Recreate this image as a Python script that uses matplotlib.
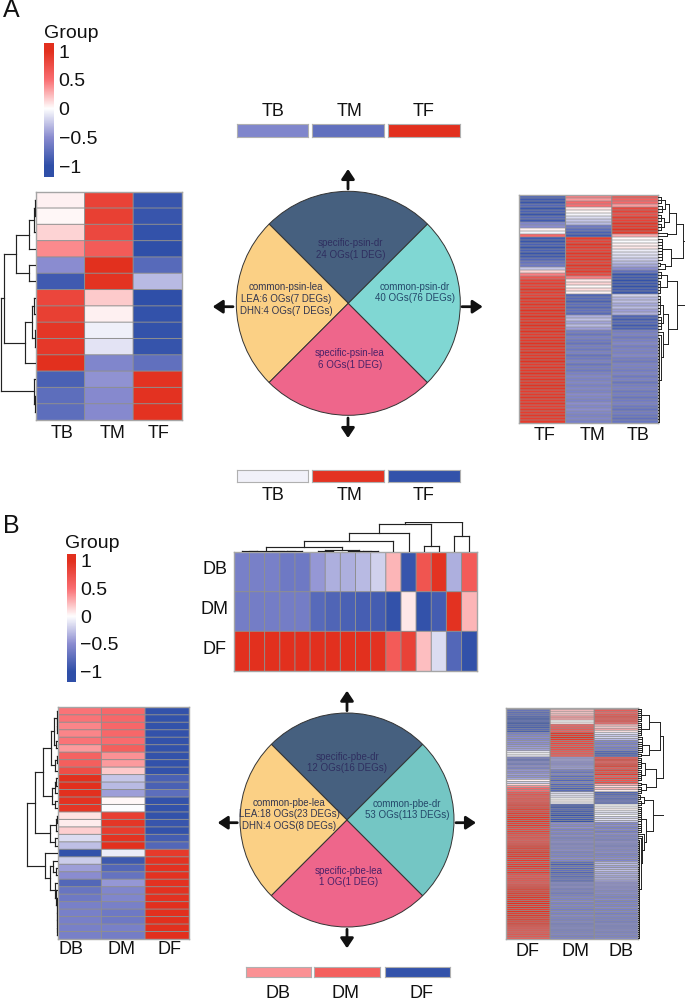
import numpy as np
import matplotlib
matplotlib.use("Agg")
import matplotlib.pyplot as plt
from matplotlib.colors import LinearSegmentedColormap, Normalize

plt.rcParams['font.family'] = ['Liberation Sans', 'DejaVu Sans']

W, H = 685, 1000

# ---------- data ----------
cbar_ticks = [1, 0.5, 0, -0.5, -1]
cbar_labels = ['1', '0.5', '0', '\u22120.5', '\u22121']

A_groups_left = ['TB', 'TM', 'TF']
A_left_TB = [.05, .03, .15, .4, -.5, -.9, .82, .87, .95, .93, 1, -.85, -.75, -.75]
A_left_TM = [.85, .87, .8, .65, 1, .97, .18, .05, -.07, -.12, -.55, -.47, -.52, -.52]
A_left_TF = [-.95, -.95, -.97, -1, -.78, -.3, -1, -.97, -.97, -.96, -.72, .98, .98, .98]

A_groups_right = ['TF', 'TM', 'TB']
A_right_TF = [-.85, -.9, -.95, -.8, -.95, -.85, -.95, -.8, -.9,
              -.55, -.5, .05, -.05, .55,
              -.9, -.95, -.85, -.95, -.85, -.95, -.9, -.8, -.7, -.65, -.25, .15, .45, .7,
              .85, .9, .85, .95, .9, .85, .95, .9,
              .95, .9, .97, .92, .97, .9, .95, .98,
              .92, .97, .9, .95, .92, .98, .95, .9,
              .97, .92, .95, .98, .9, .95, .92, .97,
              .9, .95, .92, .97, .95, .9, .92, .95,
              .9, .93, .88, .92, .9, .94, .9, .92]
A_right_TM = [.45, .35, .55, .5, .1, .03, -.05, -.15, -.25, -.3, -.65, -.75, -.85, -.9,
              .9, .85, .95, .9, .85, .95, .9, .92, .85, .95, .88, .92, .8, .45,
              .08, .15, .02, .12, .05,
              -.82, -.78, -.85, -.75, -.8, -.72, -.78,
              -.35, -.28, -.4, -.3, -.42,
              -.62, -.68, -.6, -.65, -.7, -.62, -.66, -.6, -.7, -.65,
              -.6, -.68, -.62, -.66, -.6, -.55, -.58, -.55, -.6, -.55,
              -.58, -.52, -.55, -.58, -.5, -.55, -.5, -.55, -.58, -.55, -.6]
A_right_TB = [.7, .6, .55, .35, .8, .85, .75, .9, .85, .95, .9, .98, .92, .3,
              .02, -.02, .05, .08, -.08, -.12, -.15, -.22, -.3, -.38, -.5,
              -.72, -.95, -.9, -.97, -.92, -.97, -.9, -.95,
              -.2, -.32, -.28, -.38, -.3, -.42, -.35,
              -.82, -.88, -.8, -.9, -.85,
              -.62, -.58, -.65, -.6, -.55, -.62, -.58, -.6, -.55, -.62,
              -.65, -.58, -.6, -.63, -.58, -.65, -.6, -.68, -.62, -.6,
              -.66, -.62, -.68, -.64, -.6, -.66, -.7, -.64, -.68, -.72, -.68]

A_swatch_top_names = ['TB', 'TM', 'TF']
A_swatch_top_vals = [-.55, -.72, 1]
A_swatch_bot_names = ['TB', 'TM', 'TF']
A_swatch_bot_vals = [-.06, .97, -.97]

B_groups_left = ['DB', 'DM', 'DF']
B_left_DB = [.48, .48, .42, .42, .48, .35, .6, .62, .75, 1, 1, 1, .97, .95, .1, .07, .17, -.15, -.28,
             -.97, -.22, -.42, -.5, -.8, -.68, -.65, -.6, -.6, -.6, -.6, -.6]
B_left_DM = [.55, .55, .55, .55, .52, .62, .38, .35, .18, -.25, -.3, -.42, .03, -.01, .88, .95, .9, .97, 1,
             -.08, -.92, -.8, -.7, -.45, -.55, -.55, -.6, -.65, -.65, -.6, -.62]
B_left_DF = [-.97, -.97, -.97, -.97, -.97, -.97, -.97, -.97, -.97, -.85, -.85, -.75, -.97, -.97, -.97, -.95, -.97, -.88, -.8,
             .92, .97, .98, .98, .98, .98, .98, 1, 1, 1, 1, 1]

B_groups_top = ['DB', 'DM', 'DF']
B_top_DB = [-.6, -.6, -.6, -.65, -.65, -.45, -.35, -.35, -.3, -.2, .25, -.95, .7, .97, -.35, .65]
B_top_DM = [-.62, -.62, -.62, -.62, -.62, -.78, -.82, -.85, -.87, -.88, -.97, .08, -.97, -.88, .98, .25]
B_top_DF = [1, 1, 1, 1, 1, 1, 1, 1, 1, .98, .65, .85, .22, -.15, -.8, -.98]

B_groups_right = ['DF', 'DM', 'DB']
B_right_DF = [-.7, -.72, -.78, -.75, -.85, -.9, -.8, -.95, -.85, -.9, -.8, -.88,
              -.6, -.55, -.5, -.55, -.48, -.5, -.45, -.42, -.4, -.08, -.03, -.1,
              -.6, -.72, -.55, -.65, -.5, -.6, -.45, -.5, -.42, -.48, -.4,
              .05, -.2, .15, .4, .55, .5,
              .7, .75, .7, .75, .72, .78, .85, .8, .9, .82,
              .92, .85, .95, .88, .92, .85, .9, .8, .78, .85,
              .8, .75, .78, .72, .75, .8, .88, .92, .85, .95,
              .88, .93, .85, .9, .82, .88, .92, .85, .8, .9,
              .75, .72, .78, .75, .72, .8, .85, .92, .88, .95,
              .9, .97, .88, .93, .98, .9, .95, .88, .97, .9,
              .95, .88, .92, .85, .9, .82, .78, .75, .72, .75,
              .72, .7]
B_right_DM = [.2, .22, .18, .22, .35, .3, 0, .05, .6, .65, .68, .62, .95, .9, .97, .92,
              .75, .8, .72, .78, .75, .68, .7, .65,
              -.45, -.42, -.48, -.5, -.45, -.42,
              -.6, -.7, -.55, -.75, -.65, -.8, -.6, -.8, -.72, -.85, -.78,
              -.15, -.1, -.12, 0, .02, -.05,
              -.85, -.95, -.8, -.9, -.85, -.97, -.82, -.9, -.95,
              -.5, -.55, -.48, -.6, -.52, -.58, -.5, -.6, -.55, -.5,
              -.58, -.52, -.55, -.5, -.6, -.55, -.58, -.5, -.55,
              -.75, -.85, -.7, -.8, -.72, -.82, -.7, -.78, -.68, -.75,
              -.55, -.6, -.52, -.62, -.58, -.65, -.6, -.55, -.58, -.52,
              -.6, -.55, -.58, -.62, -.55, -.6, -.52, -.58, -.6, -.55,
              -.62, -.58, -.55, -.6, -.58, -.55, -.6, -.58]
B_right_DB = [.62, .68, .6, .72, .78, .7, .75, .6, .25, .15, .3, .1, -.12, -.25, -.18, -.3,
              -.55, -.6, -.52, -.62, -.58, -.82, -.85, -.8,
              .72, .85, .68, .8, .9, .7, .85, .75, .9, .65, .8, .7, .75,
              .3, .12, .25, .05,
              -.85, -.8, -.7, -.78, -.68, -.75,
              0, -.05, .03, -.1, -.15, -.02, -.2, -.12, -.25,
              -.55, -.5, -.6, -.52, -.62, -.5, -.58, -.55, -.6, -.5,
              -.55, -.6, -.52, -.55, -.5, -.58, -.55, -.5, -.55,
              -.35, -.3, -.4, -.32, -.28, -.38, -.33, -.4, -.35, -.42,
              -.5, -.48, -.52, -.5, -.55, -.5, -.55, -.58, -.52, -.6,
              -.55, -.58, -.52, -.6, -.55, -.62, -.55, -.6, -.58, -.62,
              -.55, -.6, -.58, -.55, -.6, -.55, -.58, -.55]

B_swatch_names = ['DB', 'DM', 'DF']
B_swatch_vals = [.38, .62, -.97]

pie_shares = [1, 1, 1, 1]   # top, left, bottom, right
A_pie_colors = ['#46607F', '#FBD085', '#EE668B', '#80D7D3']
B_pie_colors = ['#46607F', '#FBD085', '#EE668B', '#74C6C4']

A_pie_text = [['specific-psin-dr', '24 OGs(1 DEG)'],
              ['common-psin-lea', 'LEA:6 OGs(7 DEGs)', 'DHN:4 OGs(7 DEGs)'],
              ['specific-psin-lea', '6 OGs(1 DEG)'],
              ['common-psin-dr', '40 OGs(76 DEGs)']]
B_pie_text = [['specific-pbe-dr', '12 OGs(16 DEGs)'],
              ['common-pbe-lea', 'LEA:18 OGs(23 DEGs)', 'DHN:4 OGS(8 DEGs)'],
              ['specific-pbe-lea', '1 OG(1 DEG)'],
              ['common-pbe-dr', '53 OGs(113 DEGs)']]

# dendrograms: (height in px, child, child, ...); integers are rows
def span(h, a, b):
    return (h, *range(a, b + 1))

A_left_tree = (35.5,
               (32.5,
                (20, (6.7, (2.5, (1.5, 0, 1), 2), 3), (7.5, 4, 5)),
                (11.5, (4.5, (2, 6, 7), (1.5, 8, 9)), 10)),
               (2, 11, (1, 12, 13)))
A_right_tree = (26.5,
                (25,
                 (18, (11, (6.5, (2.5, 0, 1, 2), (4, 3, 4, 5)),
                       (6, (2.5, 6, 7, 8), (3, 9, 10, 11))), (9, 12, 13)),
                 (12.5, span(3.5, 14, 21), (7, (2, 22, 23), 24))),
                (19,
                 (8.5, (3, 25, 26, 27), span(2, 28, 32)),
                 (9.5,
                  (4.5, span(2, 33, 39), span(2.5, 40, 44)),
                  (5, 45, (3, 46, span(1, 47, 75))))))
B_left_tree = (31,
               (22.7,
                (14.3,
                 (6.7,
                  (3.3, (1, 0, (.8, 1, (.6, 2, 3))), (1.5, 4, 5)),
                  (2.7, (1.2, 6, 7), 8)),
                 (6, (2.5, (1.5, 9, 10), 11), (2.5, 12, 13))),
                (7.7, (2, (1, 14, 15), 16), (2.5, 17, 18))),
               (12.7, 19,
                (7.7,
                 (4.3, 20, (2, 21, 22)),
                 (2.7, 23, (1.5, 24, (1.2, 25, (1, 26, (.8, 27, (.6, 28, (.4, 29, 30))))))))))
B_top_tree = (30,
              (28,
               (19,
                (11,
                 (5,
                  (1.5, (.8, 0, 1), (1.2, 2, (.6, 3, 4))),
                  (2, (1, 5, 6), (1.5, 7, (1, 8, 9)))),
                 10),
                11),
               (6, 12, 13)),
              (16, 14, 15))
B_right_tree = (25.5,
                (24.8,
                 (22,
                  (10.7, span(3, 0, 6), span(3, 7, 13)),
                  (11, span(4, 14, 21), (2.5, 22, 23))),
                 (18,
                  (6.7, span(3, 24, 29), span(2.5, 30, 35)),
                  (8, (3, 36, 37), span(2.5, 38, 41)))),
                (14.5,
                 (5.5, (2, 42, 43, 44), (3, 45, 46, 47)),
                 (7.5, span(3, 48, 60),
                  (5.5, 61, (4, 62, (3, 63, span(1, 64, 112)))))))

# ---------- helpers ----------
cmap = LinearSegmentedColormap.from_list('rwb', [
    (0.0, '#2F4FA8'), (0.25, '#8A8CD0'), (0.5, '#FFFFFF'), (0.75, '#FA6E72'), (1.0, '#E2301E')])
norm = Normalize(-1, 1)
GRID = '#8F8F8F'
DARK = '#222222'

fig = plt.figure(figsize=(W / 100, H / 100), dpi=100, facecolor='white')

def px_axes(x0, y0, x1, y1, **kw):
    return fig.add_axes([x0 / W, 1 - y1 / H, (x1 - x0) / W, (y1 - y0) / H], **kw)

def heat(x0, y0, x1, y1, cols, row_lw, col_lw):
    ax = px_axes(x0, y0, x1, y1)
    arr = np.array(cols).T
    nr, nc = arr.shape
    ax.pcolormesh(arr, cmap=cmap, norm=norm, edgecolors='none')
    h = ax.hlines(np.arange(1, nr), 0, nc, color=GRID, lw=row_lw)
    v = ax.vlines(np.arange(1, nc), 0, nr, color=GRID, lw=col_lw)
    h.set_snap(False); v.set_snap(False)
    ax.set_xlim(0, nc); ax.set_ylim(nr, 0)
    ax.set_xticks([]); ax.set_yticks([])
    for s in ax.spines.values():
        s.set_color('#A5A5A5'); s.set_linewidth(1.0)
    return ax

def draw_tree(node, plot):
    if not isinstance(node, tuple):
        return node + .5, 0.0
    h, *kids = node
    res = [draw_tree(k, plot) for k in kids]
    for pos, hc in res:
        plot([pos, pos], [hc, h])
    plot([res[0][0], res[-1][0]], [h, h])
    return (res[0][0] + res[-1][0]) / 2, h

def tree_axes(tree, n, x0, y0, x1, y1, side, lw=.85):
    hmax = tree[0] + .5
    if side == 'left':
        ax = px_axes(x0 - hmax, y0, x0, y1)
        ax.set_xlim(hmax, 0); ax.set_ylim(n, 0)
        plot = lambda p, h: ax.plot(h, p, color=DARK, lw=lw, solid_capstyle='projecting')
    elif side == 'right':
        ax = px_axes(x1, y0, x1 + hmax, y1)
        ax.set_xlim(0, hmax); ax.set_ylim(n, 0)
        plot = lambda p, h: ax.plot(h, p, color=DARK, lw=lw, solid_capstyle='projecting')
    else:
        ax = px_axes(x0, y0 - hmax, x1, y0)
        ax.set_xlim(0, n); ax.set_ylim(0, hmax)
        plot = lambda p, h: ax.plot(p, h, color=DARK, lw=lw, solid_capstyle='projecting')
    ax.axis('off')
    draw_tree(tree, plot)

def colorbar(x0, y0, x1, y1, top, bottom, pad):
    ax = px_axes(x0, y0, x1, y1)
    ys = np.linspace(bottom, top, 256)
    ax.imshow(ys[:, None], cmap=cmap, norm=norm, aspect='auto', origin='lower',
              extent=[0, 1, bottom, top])
    ax.set_xticks([])
    ax.yaxis.tick_right()
    ax.set_yticks(cbar_ticks, cbar_labels)
    ax.tick_params(axis='y', length=0, pad=pad, labelsize=14, labelcolor='#111111')
    for s in ax.spines.values():
        s.set_visible(False)

def pie(cx, cy, r, colors):
    ax = px_axes(cx - r - 1, cy - r - 1, cx + r + 1, cy + r + 1)
    ax.pie(pie_shares, colors=colors, startangle=45, counterclock=True, radius=1,
           wedgeprops=dict(edgecolor='#333333', linewidth=.7))
    lim = (r + 1) / r
    ax.set_xlim(-lim, lim); ax.set_ylim(-lim, lim)

def swatches(xs, y0, y1, vals):
    for (a, b), v in zip(xs, vals):
        ax = px_axes(a, y0, b, y1)
        ax.pcolormesh([[v]], cmap=cmap, norm=norm)
        ax.set_xticks([]); ax.set_yticks([])
        for s in ax.spines.values():
            s.set_color('#B0B0B0'); s.set_linewidth(.8)

# ---------- panel A ----------
colorbar(44.3, 43.3, 54, 176.7, 1.134, -1.186, 3.4)
heat(36, 191.7, 181.7, 420, [A_left_TB, A_left_TM, A_left_TF], .7, .7)
tree_axes(A_left_tree, 14, 36, 191.7, 181.7, 420, 'left')
heat(519.3, 195, 658, 423, [A_right_TF, A_right_TM, A_right_TB], .5, .8)
tree_axes(A_right_tree, 76, 519.3, 195, 658, 423, 'right', .7)
pie(348.3, 303.3, 112, A_pie_colors)
swatches([(236.7, 308.3), (312.3, 384.3), (388, 460)], 124.3, 136.7, A_swatch_top_vals)
swatches([(236.7, 308.3), (312.3, 384.3), (388, 460)], 470, 482, A_swatch_bot_vals)

# ---------- panel B ----------
colorbar(66.7, 554, 75.7, 681.7, 1.117, -1.18, 3.1)
heat(57.7, 707.3, 188.7, 939, [B_left_DB, B_left_DM, B_left_DF], .7, .7)
tree_axes(B_left_tree, 31, 57.7, 707.3, 188.7, 939, 'left')
heat(234.3, 552, 476.7, 671, [list(r) for r in zip(B_top_DB, B_top_DM, B_top_DF)], .7, .7)
tree_axes(B_top_tree, 16, 234.3, 552, 476.7, 671, 'top')
heat(506, 707.7, 638.3, 939.3, [B_right_DF, B_right_DM, B_right_DB], .55, .8)
tree_axes(B_right_tree, 113, 506, 707.7, 638.3, 939.3, 'right', .7)
pie(347, 820, 107, B_pie_colors)
swatches([(245.7, 310.7), (314, 379.7), (385, 450.3)], 966.7, 976.7, B_swatch_vals)

# ---------- overlay canvas in pixel units: text and arrows ----------
ov = fig.add_axes([0, 0, 1, 1], zorder=10)
ov.set_xlim(0, W); ov.set_ylim(H, 0); ov.axis('off'); ov.patch.set_alpha(0)

def lab(x, y, s, size=13, **kw):
    ov.text(x, y, s, fontsize=size, ha='center', va='center', color=kw.pop('color', '#111111'), **kw)

lab(11, 10, 'A', 18)
lab(11, 526, 'B', 18)
lab(71.7, 33, 'Group', 14)
lab(92.7, 544, 'Group', 14)

for x, s in zip([62, 112.7, 159], A_groups_left):
    lab(x, 434, s)
for x, s in zip([545, 593, 638], A_groups_right):
    lab(x, 435, s)
for x, s in zip([273, 350, 424], A_swatch_top_names):
    lab(x, 112, s)
for x, s in zip([273.5, 350, 424], A_swatch_bot_names):
    lab(x, 495, s)
for x, s in zip([70.7, 122, 170], B_groups_left):
    lab(x, 950, s)
for x, s in zip([528, 576, 621], B_groups_right):
    lab(x, 952, s)
for y, s in zip([570, 610, 650], B_groups_top):
    lab(215, y, s)
for x, s in zip([278, 346, 422], B_swatch_names):
    lab(x, 993, s)

def pie_text(centres, lines, colors):
    for (x, ys), ls, c in zip(centres, lines, colors):
        for y, s in zip(ys, ls):
            lab(x, y, s, 7, color=c)

pie_text([(350.7, [243.3, 255]),
          (286, [287.3, 299.3, 311]),
          (350, [353.3, 365.3]),
          (415, [286.7, 298.3])],
         A_pie_text, ['#2F2F60', '#33364F', '#4A2168', '#24486A'])
pie_text([(347.3, [756.7, 767.7]),
          (289.3, [803.3, 814.3, 825.7]),
          (348.3, [871, 882.3]),
          (407.3, [804, 815])],
         B_pie_text, ['#2F2F60', '#33364F', '#4A2168', '#24486A'])

def arrow(x0, y0, x1, y1):
    ov.annotate('', xy=(x1, y1), xytext=(x0, y0),
                arrowprops=dict(arrowstyle='-|>,head_length=0.42,head_width=0.28',
                                color='#111111', lw=2, mutation_scale=14,
                                shrinkA=0, shrinkB=0))

for a in [(348, 189, 348, 169), (233, 306.7, 212.7, 306.7),
          (462, 306.7, 482.7, 306.7), (348, 418, 348, 438),
          (347, 710.7, 347, 690.7), (237.3, 822.7, 217.7, 822.7),
          (456, 822.7, 476, 822.7), (347, 929.3, 347, 948.3)]:
    arrow(*a)

fig.savefig('out.png', dpi=100)
